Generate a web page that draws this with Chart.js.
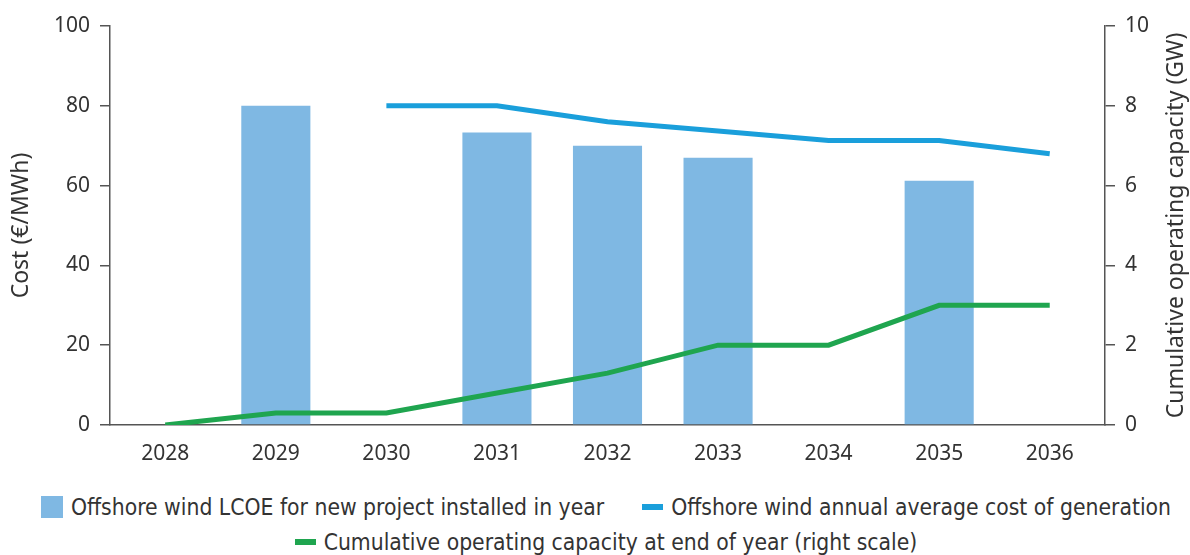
<!DOCTYPE html>
<html>
<head>
<meta charset="utf-8">
<script src="https://cdn.jsdelivr.net/npm/chart.js@4/dist/chart.umd.min.js"></script>
<style>
  body { margin: 0; background: #fff; }
  #wrap { width: 1190px; height: 555px; position: relative; overflow: hidden; }
  #legend { position: absolute; left: 11px; top: 489px; width: 1190px; font-family: "DejaVu Sans Condensed", "DejaVu Sans", sans-serif; font-stretch: condensed; font-size: 22.7px; color: #333; }
  .row { display: flex; justify-content: center; align-items: center; height: 35px; }
  .item { display: flex; align-items: center; margin: 0 19px; white-space: nowrap; }
  .sw { display: inline-block; margin-right: 8px; }
</style>
</head>
<body>
<div id="wrap">
  <canvas id="chart" width="1190" height="470"></canvas>
  <div id="legend"></div>
</div>
<script>
document.addEventListener('DOMContentLoaded', function () {

    // --- data ---
    const years = ['2028', '2029', '2030', '2031', '2032', '2033', '2034', '2035', '2036'];
    const lcoeNewProjects = [null, 80, null, 73.3, 70, 67, null, 61.2, null];
    const avgCostGeneration = [null, null, 80, 80, 76, 73.7, 71.3, 71.3, 68];
    const cumulativeCapacity = [0, 0.3, 0.3, 0.8, 1.3, 2, 2, 3, 3];

    const costTicks = [0, 20, 40, 60, 80, 100];
    const capacityTicks = [0, 2, 4, 6, 8, 10];

    const seriesNames = [
        'Offshore wind LCOE for new project installed in year',
        'Offshore wind annual average cost of generation',
        'Cumulative operating capacity at end of year (right scale)'
    ];
    const leftTitle = 'Cost (€/MWh)';
    const rightTitle = 'Cumulative operating capacity (GW)';

    const barColor = '#7fb8e3';
    const blueLine = '#1a9fdb';
    const greenLine = '#1fa54f';
    const axisColor = '#555';
    const textColor = '#333';
    const fontFamily = '"Noto Sans", sans-serif';
    const tickFont = { family: fontFamily, size: 21 };

    const axisCommon = {
        border: { display: true, color: axisColor, width: 1.5 },
        grid: { display: true, drawOnChartArea: false, color: axisColor, lineWidth: 1.5, tickLength: 10 },
        ticks: { color: textColor, font: tickFont, padding: 10 }
    };

    // both axis titles read bottom-to-top, so draw them by hand
    const axisTitles = {
        id: 'axisTitles',
        afterDraw(chart) {
            const ctx = chart.ctx;
            const area = chart.chartArea;
            const midY = (area.top + area.bottom) / 2;
            ctx.save();
            ctx.fillStyle = textColor;
            ctx.font = '23px ' + fontFamily;
            ctx.textAlign = 'center';
            ctx.textBaseline = 'middle';
            [[21, leftTitle], [1176, rightTitle]].forEach(([x, text]) => {
                ctx.save();
                ctx.translate(x, midY);
                ctx.rotate(-Math.PI / 2);
                ctx.fillText(text, 0, 0);
                ctx.restore();
            });
            ctx.restore();
        }
    };

    new Chart(document.getElementById('chart'), {
        data: {
            labels: years,
            datasets: [
                { type: 'line', label: seriesNames[1], data: avgCostGeneration, borderColor: blueLine, borderWidth: 5, pointRadius: 0, yAxisID: 'y', order: 0 },
                { type: 'line', label: seriesNames[2], data: cumulativeCapacity, borderColor: greenLine, borderWidth: 5, pointRadius: 0, yAxisID: 'y2', order: 0 },
                { type: 'bar', label: seriesNames[0], data: lcoeNewProjects, backgroundColor: barColor, categoryPercentage: 1, barPercentage: 0.625, yAxisID: 'y', order: 1 }
            ]
        },
        options: {
            responsive: false,
            animation: false,
            layout: { padding: { top: 26, left: 0, right: 0, bottom: 0 } },
            plugins: { legend: { display: false }, tooltip: { enabled: false } },
            scales: {
                x: {
                    border: { display: true, color: axisColor, width: 1.5 },
                    grid: { display: false },
                    ticks: { color: textColor, font: tickFont, padding: 8 },
                    afterFit(axis) { axis.height = 45; }
                },
                y: Object.assign({}, axisCommon, {
                    position: 'left', min: 0, max: 100,
                    afterBuildTicks(axis) { axis.ticks = costTicks.map(v => ({ value: v })); },
                    afterFit(axis) { axis.width = 110; }
                }),
                y2: Object.assign({}, axisCommon, {
                    position: 'right', min: 0, max: 10,
                    afterBuildTicks(axis) { axis.ticks = capacityTicks.map(v => ({ value: v })); },
                    afterFit(axis) { axis.width = 85; }
                })
            }
        },
        plugins: [axisTitles]
    });

    // --- legend below the plot ---
    const legendRows = [
        [
            { name: seriesNames[0], w: 22, h: 22, color: barColor },
            { name: seriesNames[1], w: 21, h: 6, color: blueLine }
        ],
        [
            { name: seriesNames[2], w: 21, h: 6, color: greenLine }
        ]
    ];
    const legend = document.getElementById('legend');
    legendRows.forEach(row => {
        const rowEl = document.createElement('div');
        rowEl.className = 'row';
        row.forEach(item => {
            rowEl.innerHTML += `<span class="item"><span class="sw" style="width:${item.w}px;height:${item.h}px;background:${item.color}"></span>${item.name}</span>`;
        });
        legend.appendChild(rowEl);
    });
});
</script>
</body>
</html>
